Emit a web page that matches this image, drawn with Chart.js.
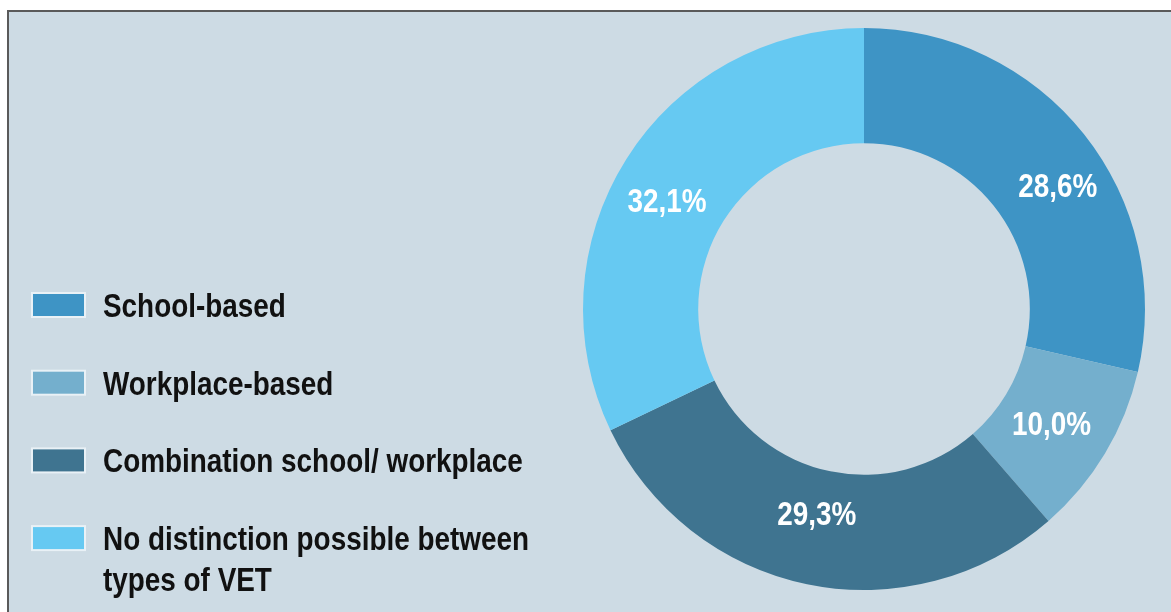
<!DOCTYPE html>
<html>
<head>
<meta charset="utf-8">
<script src="https://cdn.jsdelivr.net/npm/chart.js@4.4.1/dist/chart.umd.min.js"></script>
<style>
  html, body { margin: 0; padding: 0; background: #ffffff; }
  #wrap { position: absolute; left: 0; top: 0; width: 1171px; height: 612px; }
  canvas { display: block; }
</style>
</head>
<body>
<div id="wrap"><canvas id="c" width="1171" height="612"></canvas></div>
<script>
// ---- Data ----
const categories = [
  "School-based",
  "Workplace-based",
  "Combination school/ workplace",
  "No distinction possible between types of VET"
];
const shares = [28.6, 10.0, 29.3, 32.1];
const sliceColors = ["#3e94c5", "#74afcd", "#3f7490", "#66c9f2"];

// ---- Styles ----
const BG = "#cddbe4";
const FONT = "bold 34px 'Liberation Sans', Arial, sans-serif";
const SQUEEZE = 0.82;   // horizontal condensing of the text

function fmtPct(v) { return v.toFixed(1).replace('.', ',') + '%'; }

function condensedText(ctx, text, x, y) {
  ctx.save();
  ctx.translate(x, y);
  ctx.scale(SQUEEZE, 1);
  ctx.fillText(text, 0, 0);
  ctx.restore();
}

const framePlugin = {
  id: 'frame',
  beforeDraw(chart) {
    const ctx = chart.ctx;
    ctx.save();
    ctx.fillStyle = '#ffffff';
    ctx.fillRect(0, 0, chart.width, chart.height);
    ctx.fillStyle = BG;
    ctx.fillRect(8, 11, chart.width - 8, chart.height - 11);
    ctx.strokeStyle = '#5a5a5a';
    ctx.lineWidth = 2;
    ctx.beginPath();
    ctx.moveTo(8, chart.height);
    ctx.lineTo(8, 11);
    ctx.lineTo(chart.width, 11);
    ctx.stroke();
    ctx.restore();
  }
};

const sliceLabelPlugin = {
  id: 'sliceLabels',
  afterDatasetsDraw(chart) {
    const ctx = chart.ctx;
    const o = chart.options.plugins.sliceLabels;
    const meta = chart.getDatasetMeta(0);
    ctx.save();
    ctx.font = FONT;
    ctx.fillStyle = '#ffffff';
    ctx.textAlign = 'center';
    ctx.textBaseline = 'middle';
    meta.data.forEach((arc, i) => {
      const p = arc.tooltipPosition();
      const n = o.nudge[i] || [0, 0];
      condensedText(ctx, fmtPct(chart.data.datasets[0].data[i]), p.x + n[0], p.y + 1 + n[1]);
    });
    ctx.restore();
  }
};

const legendPlugin = {
  id: 'sideLegend',
  afterDraw(chart) {
    const ctx = chart.ctx;
    const o = chart.options.plugins.sideLegend;
    ctx.save();
    ctx.font = FONT;
    ctx.textAlign = 'left';
    ctx.textBaseline = 'alphabetic';
    chart.data.labels.forEach((lab, i) => {
      const cy = o.top + i * o.step;
      ctx.fillStyle = '#e9f1f6';
      ctx.fillRect(o.boxX, cy - o.boxH / 2, o.boxW, o.boxH);
      ctx.fillStyle = chart.data.datasets[0].backgroundColor[i];
      ctx.fillRect(o.boxX + 2, cy - o.boxH / 2 + 2, o.boxW - 4, o.boxH - 4);
      const words = lab.split(' ');
      const lines = [];
      let cur = '';
      words.forEach(w => {
        const t = cur ? cur + ' ' + w : w;
        if (ctx.measureText(t).width * SQUEEZE > o.maxW && cur) { lines.push(cur); cur = w; }
        else cur = t;
      });
      if (cur) lines.push(cur);
      ctx.fillStyle = '#111111';
      lines.forEach((ln, j) => {
        condensedText(ctx, ln, o.textX, cy + 12 + j * o.lineH);
      });
    });
    ctx.restore();
  }
};

new Chart(document.getElementById('c'), {
  type: 'doughnut',
  data: {
    labels: categories,
    datasets: [{
      data: shares,
      backgroundColor: sliceColors,
      borderWidth: 0
    }]
  },
  options: {
    responsive: false,
    devicePixelRatio: 1,
    animation: false,
    cutout: '59%',
    layout: { padding: { left: 583, right: 26, top: 28, bottom: 22 } },
    plugins: {
      legend: { display: false },
      tooltip: { enabled: false },
      sliceLabels: { nudge: [[19, 17], [-4, 1], [-2, -13], [-8, 12]] },
      sideLegend: { top: 305, step: 77.7, boxX: 31, boxW: 55, boxH: 26, textX: 103, maxW: 450, lineH: 41 }
    }
  },
  plugins: [framePlugin, sliceLabelPlugin, legendPlugin]
});
</script>
</body>
</html>
